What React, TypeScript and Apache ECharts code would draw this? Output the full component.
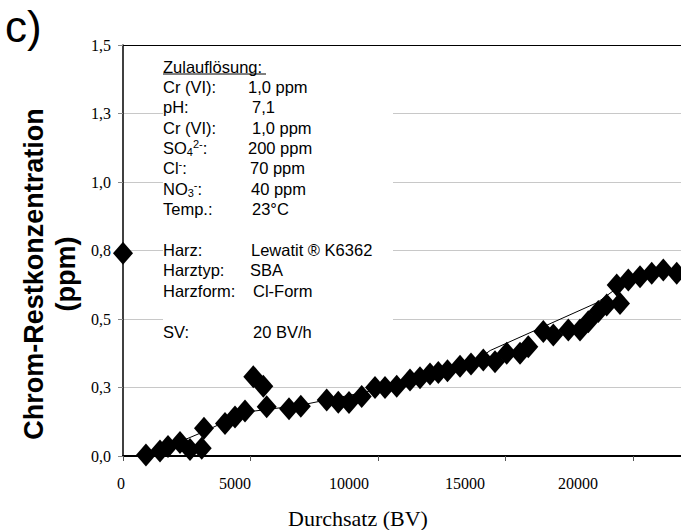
import React, { useEffect, useRef } from "react";
import * as echarts from "echarts";

// ---- data ----
const throughputBV = [0, 900, 1450, 1765, 2235, 2627, 3086, 3176, 4000, 4392, 4784, 5110, 5502, 5635, 6510, 6973, 7988, 8443, 8863, 9361, 9882, 10275, 10733, 11255, 11647, 12039, 12365, 12725, 13216, 13647, 14129, 14588, 15047, 15569, 15894, 16482, 16875, 17463, 17922, 18247, 18639, 18969, 19361, 19490, 19816, 20275, 20733, 21188, 21714];
const chromPpm = [0.74, 0.004, 0.018, 0.035, 0.049, 0.024, 0.028, 0.101, 0.119, 0.142, 0.164, 0.289, 0.255, 0.18, 0.172, 0.182, 0.204, 0.196, 0.195, 0.217, 0.25, 0.25, 0.255, 0.277, 0.286, 0.299, 0.305, 0.311, 0.328, 0.336, 0.35, 0.344, 0.375, 0.375, 0.399, 0.454, 0.442, 0.46, 0.46, 0.49, 0.527, 0.551, 0.624, 0.557, 0.642, 0.654, 0.667, 0.679, 0.667];

const trendBV = [900, 3200, 4800, 6950, 8000, 10275, 13600, 14400, 18600, 19700, 21850];
const trendPpm = [0.0, 0.09, 0.16, 0.185, 0.205, 0.248, 0.332, 0.385, 0.56, 0.635, 0.68];

const xTickLabels = ["0", "5000", "10000", "15000", "20000"];
const yTickLabels = ["0,0", "0,3", "0,5", "0,8", "1,0", "1,3", "1,5"];

const infoTitle = "Zulauflösung:";
const infoKeys = [
  "Cr (VI):",
  "pH:",
  "Cr (VI):",
  "{n|SO}{sub|4}{sup|2-}{n|:}",
  "{n|Cl}{sup|-}{n|:}",
  "{n|NO}{sub|3}{sup|-}{n|:}",
  "Temp.:",
  "Harz:",
  "Harztyp:",
  "Harzform:",
  "SV:",
];
const infoValues = ["1,0 ppm", "7,1", "1,0 ppm", "200 ppm", "70 ppm", "40 ppm", "23°C", "Lewatit ® K6362", "SBA", "Cl-Form", "20 BV/h"];

// ---- layout / style ----
const X_MAX = 21882; // visible end of the (cropped) x axis
const infoRowY = [87, 107, 128, 148, 168, 189, 209, 250, 270, 291, 332];
const infoValueX = [248, 252, 252, 248, 250, 251, 252, 251, 250, 253, 253];
const xLabelShift = [2, 15.5, 29, 40.5, 55];
const splitColors = ["#c8c8c8", "#c8c8c8", "#c8c8c8", "#c8c8c8", "#c8c8c8", "#c8c8c8", "#000"];

const SANS = '"Liberation Sans", Arial, Helvetica, sans-serif';
const SERIF = '"Liberation Serif", "Times New Roman", serif';

export default function App() {
  const ref = useRef<HTMLDivElement>(null);

  useEffect(() => {
    if (!ref.current) return;
    const chart = echarts.init(ref.current, undefined, { renderer: "svg" });

    const xRich: Record<string, any> = {};
    xTickLabels.forEach((_, i) => {
      xRich["t" + i] = {
        fontFamily: SERIF,
        fontSize: 16,
        color: "#000",
        padding: [0, xLabelShift[i] * 2, 0, 0],
      };
    });

    const infoFont = "16.5px " + SANS;
    const richInfo = {
      n: { fontFamily: SANS, fontSize: 16.5, color: "#000" },
      sub: { fontFamily: SANS, fontSize: 11, color: "#000", padding: [7, 0, 0, 0] },
      sup: { fontFamily: SANS, fontSize: 11, color: "#000", padding: [0, 0, 8, 0] },
    };

    const graphics: any[] = [
      {
        type: "rect",
        z: 1,
        shape: { x: 163, y: 50, width: 230, height: 295 },
        style: { fill: "#fff" },
        silent: true,
      },
      {
        type: "text",
        z: 3,
        x: 163,
        y: 67,
        style: { text: infoTitle, font: infoFont, fill: "#000", align: "left", verticalAlign: "middle" },
      },
      {
        type: "line",
        z: 3,
        shape: { x1: 163, y1: 74, x2: 266, y2: 74 },
        style: { stroke: "#000", lineWidth: 1 },
      },
      {
        type: "text",
        z: 3,
        x: 5,
        y: 26,
        style: { text: "c)", font: "44px " + SANS, fill: "#000", align: "left", verticalAlign: "middle" },
      },
      {
        type: "text",
        z: 3,
        x: 50,
        y: 274,
        rotation: Math.PI / 2,
        style: {
          text: "Chrom-Restkonzentration\n(ppm)",
          font: "bold 27px " + SANS,
          lineHeight: 32,
          fill: "#000",
          align: "center",
          verticalAlign: "middle",
        },
      },
      {
        type: "text",
        z: 3,
        x: 358,
        y: 518,
        style: { text: "Durchsatz (BV)", font: "22px " + SERIF, fill: "#000", align: "center", verticalAlign: "middle" },
      },
    ];

    infoKeys.forEach((k, i) => {
      graphics.push({
        type: "text",
        z: 3,
        x: 163,
        y: infoRowY[i],
        style: { text: k, font: infoFont, fill: "#000", align: "left", verticalAlign: "middle", rich: richInfo },
      });
      graphics.push({
        type: "text",
        z: 3,
        x: infoValueX[i],
        y: infoRowY[i],
        style: { text: infoValues[i], font: infoFont, fill: "#000", align: "left", verticalAlign: "middle" },
      });
    });

    const option: any = {
      animation: false,
      backgroundColor: "#fff",
      grid: {
        left: 123,
        top: 45,
        bottom: 74,
        right: 0,
        show: false,
      },
      xAxis: {
        type: "value",
        min: 0,
        max: X_MAX,
        interval: 5000,
        axisLine: { show: true, onZero: false, lineStyle: { color: "#000", width: 2 } },
        axisTick: { show: true, length: 5, lineStyle: { color: "#555" } },
        splitLine: { show: false },
        axisLabel: {
          margin: 19,
          fontFamily: SERIF,
          fontSize: 16,
          color: "#000",
          showMaxLabel: false,
          formatter: (v: number) => {
            if (v % 5000 !== 0) return "";
            const i = v / 5000;
            if (i < 0 || i >= xTickLabels.length) return "";
            return "{t" + i + "|" + xTickLabels[i] + "}";
          },
          rich: xRich,
        },
      },
      yAxis: {
        type: "value",
        min: 0,
        max: 1.5,
        interval: 0.25,
        axisLine: { show: true, lineStyle: { color: "#000", width: 1.5 } },
        axisTick: { show: true, length: 5, lineStyle: { color: "#888" } },
        splitLine: { show: true, lineStyle: { color: splitColors, width: 1 } },
        axisLabel: {
          margin: 12,
          fontFamily: SERIF,
          fontSize: 16,
          color: "#000",
          formatter: (v: number) => yTickLabels[Math.round(v / 0.25)] ?? "",
        },
      },
      series: [
        {
          type: "line",
          data: trendBV.map((x, i) => [x, trendPpm[i]]),
          symbol: "none",
          showSymbol: false,
          lineStyle: { color: "#000", width: 1 },
          z: 2,
          silent: true,
        },
        {
          type: "scatter",
          data: throughputBV.map((x, i) => [x, chromPpm[i]]),
          symbol: "diamond",
          symbolSize: [20, 23],
          itemStyle: { color: "#000", opacity: 1 },
          z: 3,
        },
      ],
      graphic: graphics,
    };

    chart.setOption(option);
    return () => chart.dispose();
  }, []);

  return (
    <div
      ref={ref}
      style={{ position: "fixed", left: 0, top: 0, width: 681, height: 530, background: "#fff" }}
    />
  );
}
